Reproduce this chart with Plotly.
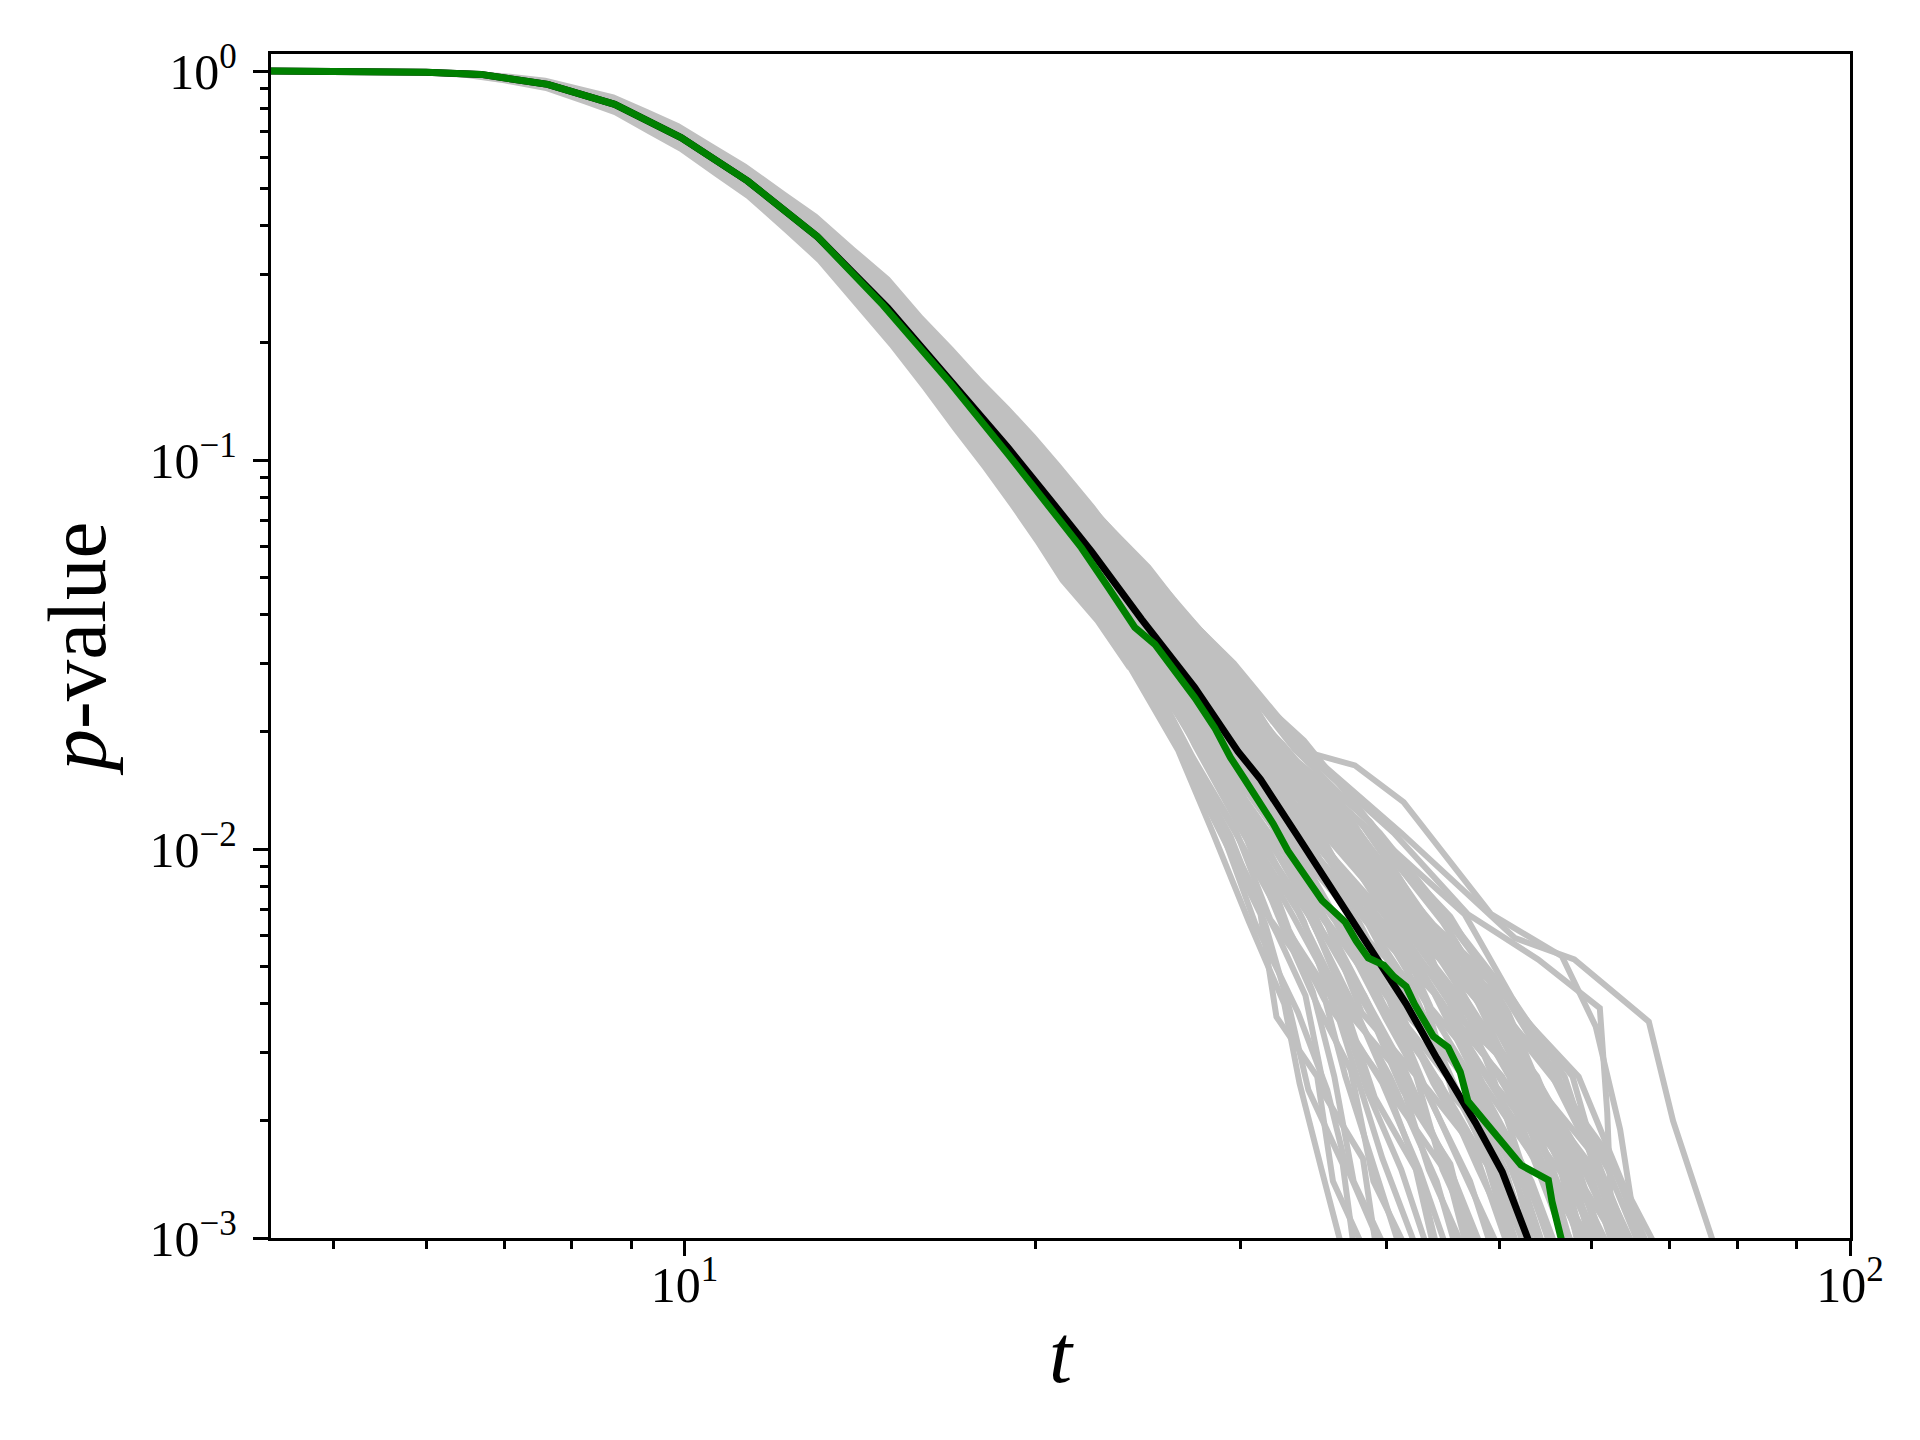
import plotly.graph_objects as go

# ---------------- data ----------------
BLACK_T = [4.3, 5.0, 5.5, 6.0, 6.69, 7.63, 8.71, 9.93, 11.33, 13.0, 14.94, 17.0, 18.95, 20.5,
           22.34, 24.66, 27.4, 29.85, 31.2, 33.5, 35.8, 39.2, 41.6, 44.2, 47.7, 50.3, 53.0, 54.0]
BLACK_P = [1.0, 0.9995, 0.998, 0.993, 0.980, 0.924, 0.821, 0.674, 0.521, 0.375, 0.246, 0.1567, 0.1075, 0.0804,
           0.0582, 0.039, 0.026, 0.0178, 0.0151, 0.0109, 0.0080, 0.00525, 0.0040, 0.0029, 0.00198, 0.00148, 0.0010, 0.00085]

GREEN_T = [4.3, 5.0, 5.5, 6.0, 6.69, 7.63, 8.71, 9.93, 11.33, 13.0, 14.8, 16.9, 18.95, 20.3, 21.9, 23.1,
           24.34, 25.32, 26.3, 27.4, 28.5, 29.4, 30.2, 31.24, 32.0, 32.93, 34.1, 35.24, 36.88, 37.7, 38.6,
           39.8, 40.6, 41.6, 42.3, 43.9, 45.2, 46.3, 47.0, 49.2, 52.2, 55.1, 55.5, 56.5, 57.0]
GREEN_P = [1.0, 0.9995, 0.998, 0.993, 0.980, 0.924, 0.821, 0.674, 0.521, 0.375, 0.25, 0.158, 0.1034, 0.079, 0.0595, 0.047,
           0.0371, 0.0336, 0.029, 0.0245, 0.0205, 0.0172, 0.0152, 0.0130, 0.0116, 0.0099, 0.0085, 0.00737, 0.00649, 0.0058, 0.00525,
           0.00503, 0.0047, 0.00443, 0.00399, 0.0033, 0.00309, 0.00267, 0.00225, 0.0019, 0.00154, 0.00141, 0.00124, 0.0010, 0.0009]

# upper part of the simulated curves: a dense band (outer edges)
BAND_T = [4.3, 5.0, 5.5, 6.0, 6.5, 7.0, 7.6, 8.2, 8.7, 9.3, 9.9, 10.6, 11.3, 12.2, 13.0, 14.0, 15.0,
          16.0, 17.0, 18.0, 19.0, 20.0, 21.0, 22.5, 24.0]
BAND_UPPER = [1.0116, 1.0111, 1.0118, 1.0093, 1.0041, 0.9872, 0.9603, 0.9093, 0.8703, 0.7969, 0.7328, 0.6474,
              0.5768, 0.4896, 0.4285, 0.3520, 0.2951, 0.2356, 0.1950, 0.1616, 0.1371, 0.1162, 0.098, 0.0763, 0.0587]
BAND_LOWER = [0.9886, 0.9881, 0.9842, 0.9750, 0.9590, 0.9298, 0.8880, 0.8216, 0.7703, 0.6892, 0.6209, 0.5373,
              0.4699, 0.3835, 0.3221, 0.2492, 0.1950, 0.1521, 0.1189, 0.0952, 0.0762, 0.0610, 0.0486, 0.0382, 0.0288]

# lower part of the simulated curves: individual lines
GRAY_T = [
    [18.4, 21.8, 24.0, 26.5, 28.4, 30.5, 32.7, 33.7, 35.2, 36.8],
    [18.6, 21.6, 24.5, 26.3, 29.2, 31.2, 32.2, 34.9, 36.0, 38.5],
    [18.8, 22.1, 24.2, 27.0, 28.9, 32.2, 34.1, 35.5, 38.2, 39.3],
    [18.5, 22.2, 25.2, 27.4, 30.4, 32.6, 35.0, 37.3, 39.0, 41.9],
    [18.9, 22.4, 25.0, 27.9, 29.9, 33.3, 36.4, 38.5, 41.2, 43.6],
    [18.85, 22.7, 25.4, 28.1, 31.2, 34.0, 36.0, 39.7, 42.7, 45.3],
    [19.1, 22.6, 25.7, 28.8, 31.4, 34.3, 37.8, 40.3, 44.2, 46.1],
    [18.7, 22.4, 25.7, 29.1, 31.9, 35.3, 38.3, 42.1, 45.0, 48.6],
    [19.3, 22.9, 25.8, 28.4, 31.7, 35.7, 38.8, 41.5, 45.7, 47.8],
    [19.0, 23.0, 26.0, 29.5, 32.4, 36.0, 40.2, 43.3, 46.5, 50.3],
    [19.5, 23.2, 26.2, 29.1, 32.9, 36.4, 39.7, 44.5, 48.0, 52.0],
    [19.2, 23.4, 26.4, 30.0, 33.2, 37.4, 41.1, 45.1, 50.2, 52.9],
    [19.7, 23.4, 26.9, 29.8, 33.8, 38.0, 43.1, 45.7, 51.2, 53.7],
    [19.4, 23.6, 26.7, 30.4, 34.2, 37.9, 41.6, 46.6, 52.3, 54.9],
    [19.1, 23.2, 27.0, 30.2, 34.3, 39.1, 43.1, 48.0, 52.3, 56.0],
    [19.9, 23.8, 27.0, 30.9, 34.5, 39.7, 44.7, 48.4, 54.4, 57.2],
    [19.8, 24.0, 27.3, 30.6, 35.3, 39.8, 45.5, 50.3, 54.6, 58.4],
    [19.3, 23.6, 27.5, 31.1, 35.7, 40.9, 45.3, 51.2, 56.4, 59.5],
    [20.0, 24.3, 27.6, 31.3, 35.9, 41.5, 47.0, 51.0, 56.0, 60.7],
    [19.5, 23.8, 27.8, 31.5, 36.4, 41.2, 47.8, 52.1, 58.5, 61.9],
    [20.1, 24.5, 28.0, 31.9, 36.6, 42.6, 48.4, 53.0, 59.6, 63.0],
    [20.3, 24.7, 28.3, 32.0, 37.2, 42.8, 49.3, 53.9, 58.7, 64.2],
    [19.8, 24.2, 28.2, 32.5, 37.6, 43.2, 48.5, 54.9, 60.6, 65.4],
    [20.4, 24.9, 28.6, 32.3, 38.0, 43.8, 50.1, 55.2, 61.6, 65.0],
    [20.5, 25.1, 28.9, 33.0, 38.7, 44.9, 50.8, 56.7, 62.0, 66.5],
    [20.0, 24.8, 29.2, 33.4, 39.5, 45.5, 51.6, 56.4, 62.7, 67.7],
    [20.3, 25.0, 29.5, 34.0, 40.2, 46.7, 52.4, 58.5, 63.7, 68.8],
    [20.5, 25.3, 29.3, 33.6, 37.6, 41.4, 49.2, 56.6, 60.5, 63.5, 66.0],
    [20.4, 25.2, 29.4, 33.8, 40.6, 47.0, 54.0, 61.0, 61.9, 62.6],
    [20.1, 24.9, 29.6, 34.1, 41.2, 51.6, 58.0, 67.2, 70.5, 74.0, 77.0],
    [18.45, 21.9, 24.4, 26.7, 29.4, 31.5, 33.1, 34.3, 36.7, 37.6],
    [18.65, 21.85, 24.7, 27.2, 29.6, 32.6, 34.6, 36.1, 37.5, 40.2],
    [18.85, 22.25, 24.6, 27.5, 30.7, 32.9, 36.0, 37.9, 39.7, 42.7],
    [18.75, 22.5, 25.2, 27.7, 30.2, 33.6, 36.9, 39.1, 42.7, 44.4],
    [19.05, 22.65, 25.3, 28.4, 30.9, 34.6, 37.4, 40.9, 43.5, 46.9],
    [18.95, 22.8, 25.55, 28.2, 31.6, 35.0, 38.7, 41.3, 45.4, 47.5],
    [19.2, 22.7, 25.9, 28.9, 32.1, 35.5, 39.3, 42.7, 47.2, 49.5],
    [19.1, 22.95, 26.15, 29.3, 32.5, 36.7, 40.7, 43.9, 47.9, 51.2],
    [19.4, 23.1, 26.3, 29.6, 32.8, 37.0, 40.6, 45.2, 49.4, 52.2],
    [19.15, 23.3, 26.55, 29.8, 33.4, 37.9, 41.8, 46.3, 50.6, 53.4],
    [19.6, 23.5, 26.6, 30.25, 33.7, 38.6, 42.4, 47.5, 51.0, 54.6],
    [19.35, 23.45, 26.85, 30.65, 34.0, 39.3, 43.9, 47.7, 53.3, 56.3],
    [19.72, 23.7, 27.2, 30.4, 34.9, 39.1, 44.5, 49.3, 53.5, 57.6],
    [19.48, 23.85, 27.05, 31.05, 35.2, 40.3, 44.7, 50.0, 55.4, 58.0],
    [19.88, 23.9, 27.45, 31.2, 36.1, 40.7, 46.2, 51.4, 55.6, 59.2],
    [19.65, 24.15, 27.65, 31.45, 35.5, 41.3, 46.8, 52.5, 57.3, 60.4],
    [20.05, 24.35, 27.85, 31.7, 36.8, 42.0, 47.2, 53.3, 58.3, 62.6],
    [19.85, 24.45, 28.1, 32.1, 37.3, 43.0, 48.2, 52.7, 58.0, 61.5],
    [20.35, 24.75, 28.45, 32.75, 38.3, 44.3, 49.6, 54.2, 59.4, 64.0],
    [20.2, 24.65, 28.7, 33.15, 39.0, 44.7, 50.5, 55.9, 60.8, 65.8],
    [18.55, 21.7, 24.1, 26.8, 29.0, 30.9, 33.6, 35.6, 36.9, 39.9],
    [18.8, 22.0, 24.85, 27.3, 29.7, 31.8, 35.3, 36.9, 39.4, 41.3],
    [19.0, 22.3, 25.1, 28.55, 31.0, 33.0, 35.4, 39.9, 42.2, 44.1],
    [19.25, 22.88, 25.45, 28.0, 30.5, 34.2, 37.6, 40.6, 45.2, 47.1],
    [19.28, 23.12, 25.95, 28.7, 31.8, 36.2, 39.9, 42.3, 44.7, 48.3],
    [19.55, 23.52, 26.72, 29.65, 32.6, 35.6, 38.1, 43.5, 48.8, 51.5],
    [18.9, 22.9, 26.7, 30.7, 35.0, 38.4, 42.2, 45.5, 49.8, 53.1],
    [19.95, 24.05, 27.35, 30.55, 34.1, 39.5, 46.5, 49.6, 52.1, 55.7],
    [19.42, 23.95, 27.95, 32.25, 36.5, 40.1, 43.7, 50.6, 56.7, 58.7],
    [20.45, 25.0, 29.05, 32.9, 37.5, 42.4, 47.9, 51.6, 57.8, 60.3],
    [19.7, 24.3, 28.3, 32.7, 38.8, 43.6, 49.0, 54.6, 59.7, 63.3],
    [20.0, 24.0, 28.0, 32.4, 39.3, 45.4, 50.9, 53.7, 57.2, 61.6],
    [19.55, 23.72, 27.75, 32.1, 38.1, 44.2, 50.3, 52.0, 56.1, 59.0],
    [19.8, 24.4, 28.4, 31.7, 37.0, 42.3, 46.0, 51.3, 57.5, 60.9],
    [19.92, 24.1, 27.3, 31.6, 37.7, 43.4, 51.1, 57.8, 61.3, 65.2],
    [19.32, 23.4, 27.4, 31.8, 36.9, 42.2, 48.7, 53.6, 60.3, 64.6],
    [19.12, 23.25, 26.9, 31.3, 36.3, 42.9, 47.5, 51.0, 55.0, 60.0],
    [19.5, 23.6, 27.2, 31.0, 36.2, 41.9, 49.4, 56.0, 62.4, 66.9],
    [20.15, 24.55, 28.15, 32.6, 38.5, 43.1, 47.6, 52.3, 56.7, 61.2],
    [19.6, 23.9, 27.5, 31.9, 37.4, 43.9, 51.4, 56.9, 60.9, 63.8],
]
GRAY_P = [
    [0.1, 0.05, 0.03, 0.018, 0.011, 0.0065, 0.004, 0.0025, 0.0015, 0.0009],
    [0.1, 0.053, 0.028, 0.019, 0.0102, 0.0068, 0.0037, 0.0026, 0.0014, 0.0009],
    [0.1, 0.047, 0.032, 0.017, 0.0115, 0.0061, 0.0042, 0.0023, 0.0016, 0.0009],
    [0.1, 0.051, 0.031, 0.0185, 0.0105, 0.0063, 0.0039, 0.0027, 0.0014, 0.0009],
    [0.1, 0.049, 0.029, 0.0175, 0.0118, 0.0067, 0.0041, 0.0024, 0.0015, 0.0009],
    [0.1, 0.05, 0.03, 0.018, 0.011, 0.0065, 0.004, 0.0025, 0.0015, 0.0009],
    [0.1, 0.053, 0.028, 0.019, 0.0102, 0.0068, 0.0037, 0.0026, 0.0014, 0.0009],
    [0.1, 0.047, 0.032, 0.017, 0.0115, 0.0061, 0.0042, 0.0023, 0.0016, 0.0009],
    [0.1, 0.051, 0.031, 0.0185, 0.0105, 0.0063, 0.0039, 0.0027, 0.0014, 0.0009],
    [0.1, 0.049, 0.029, 0.0175, 0.0118, 0.0067, 0.0041, 0.0024, 0.0015, 0.0009],
    [0.1, 0.05, 0.03, 0.018, 0.011, 0.0065, 0.004, 0.0025, 0.0015, 0.0009],
    [0.1, 0.053, 0.028, 0.019, 0.0102, 0.0068, 0.0037, 0.0026, 0.0014, 0.0009],
    [0.1, 0.047, 0.032, 0.017, 0.0115, 0.0061, 0.0042, 0.0023, 0.0016, 0.0009],
    [0.1, 0.051, 0.031, 0.0185, 0.0105, 0.0063, 0.0039, 0.0027, 0.0014, 0.0009],
    [0.1, 0.049, 0.029, 0.0175, 0.0118, 0.0067, 0.0041, 0.0024, 0.0015, 0.0009],
    [0.1, 0.05, 0.03, 0.018, 0.011, 0.0065, 0.004, 0.0025, 0.0015, 0.0009],
    [0.1, 0.053, 0.028, 0.019, 0.0102, 0.0068, 0.0037, 0.0026, 0.0014, 0.0009],
    [0.1, 0.047, 0.032, 0.017, 0.0115, 0.0061, 0.0042, 0.0023, 0.0016, 0.0009],
    [0.1, 0.051, 0.031, 0.0185, 0.0105, 0.0063, 0.0039, 0.0027, 0.0014, 0.0009],
    [0.1, 0.049, 0.029, 0.0175, 0.0118, 0.0067, 0.0041, 0.0024, 0.0015, 0.0009],
    [0.1, 0.05, 0.03, 0.018, 0.011, 0.0065, 0.004, 0.0025, 0.0015, 0.0009],
    [0.1, 0.053, 0.028, 0.019, 0.0102, 0.0068, 0.0037, 0.0026, 0.0014, 0.0009],
    [0.1, 0.047, 0.032, 0.017, 0.0115, 0.0061, 0.0042, 0.0023, 0.0016, 0.0009],
    [0.1, 0.051, 0.031, 0.0185, 0.0105, 0.0063, 0.0039, 0.0027, 0.0014, 0.0009],
    [0.1, 0.049, 0.029, 0.0175, 0.0118, 0.0067, 0.0041, 0.0024, 0.0015, 0.0009],
    [0.1, 0.05, 0.03, 0.018, 0.011, 0.0065, 0.004, 0.0025, 0.0015, 0.0009],
    [0.1, 0.053, 0.028, 0.019, 0.0102, 0.0068, 0.0037, 0.0026, 0.0014, 0.0009],
    [0.1, 0.05, 0.03, 0.018, 0.0164, 0.0132, 0.0068, 0.0053, 0.0035, 0.0019, 0.0009],
    [0.1, 0.05, 0.03, 0.018, 0.011, 0.0068, 0.0052, 0.0039, 0.0021, 0.0009],
    [0.1, 0.05, 0.03, 0.018, 0.011, 0.0059, 0.0052, 0.0036, 0.002, 0.0013, 0.0009],
    [0.1, 0.048, 0.031, 0.0182, 0.0108, 0.0064, 0.0038, 0.0024, 0.00155, 0.0009],
    [0.1, 0.052, 0.0295, 0.0172, 0.0112, 0.0066, 0.0043, 0.0026, 0.0014, 0.0009],
    [0.1, 0.046, 0.0305, 0.0188, 0.0104, 0.0062, 0.0041, 0.0025, 0.0016, 0.0009],
    [0.1, 0.054, 0.0285, 0.0178, 0.0114, 0.0069, 0.0039, 0.0023, 0.00145, 0.0009],
    [0.1, 0.05, 0.0315, 0.0168, 0.0109, 0.0065, 0.0037, 0.0027, 0.0015, 0.0009],
    [0.1, 0.048, 0.031, 0.0182, 0.0108, 0.0064, 0.0038, 0.0024, 0.00155, 0.0009],
    [0.1, 0.052, 0.0295, 0.0172, 0.0112, 0.0066, 0.0043, 0.0026, 0.0014, 0.0009],
    [0.1, 0.046, 0.0305, 0.0188, 0.0104, 0.0062, 0.0041, 0.0025, 0.0016, 0.0009],
    [0.1, 0.054, 0.0285, 0.0178, 0.0114, 0.0069, 0.0039, 0.0023, 0.00145, 0.0009],
    [0.1, 0.05, 0.0315, 0.0168, 0.0109, 0.0065, 0.0037, 0.0027, 0.0015, 0.0009],
    [0.1, 0.048, 0.031, 0.0182, 0.0108, 0.0064, 0.0038, 0.0024, 0.00155, 0.0009],
    [0.1, 0.052, 0.0295, 0.0172, 0.0112, 0.0066, 0.0043, 0.0026, 0.0014, 0.0009],
    [0.1, 0.046, 0.0305, 0.0188, 0.0104, 0.0062, 0.0041, 0.0025, 0.0016, 0.0009],
    [0.1, 0.054, 0.0285, 0.0178, 0.0114, 0.0069, 0.0039, 0.0023, 0.00145, 0.0009],
    [0.1, 0.05, 0.0315, 0.0168, 0.0109, 0.0065, 0.0037, 0.0027, 0.0015, 0.0009],
    [0.1, 0.048, 0.031, 0.0182, 0.0108, 0.0064, 0.0038, 0.0024, 0.00155, 0.0009],
    [0.1, 0.052, 0.0295, 0.0172, 0.0112, 0.0066, 0.0043, 0.0026, 0.0014, 0.0009],
    [0.1, 0.046, 0.0305, 0.0188, 0.0104, 0.0062, 0.0041, 0.0025, 0.0016, 0.0009],
    [0.1, 0.054, 0.0285, 0.0178, 0.0114, 0.0069, 0.0039, 0.0023, 0.00145, 0.0009],
    [0.1, 0.05, 0.0315, 0.0168, 0.0109, 0.0065, 0.0037, 0.0027, 0.0015, 0.0009],
    [0.1, 0.048, 0.031, 0.0182, 0.0108, 0.0064, 0.0038, 0.0024, 0.00155, 0.0009],
    [0.1, 0.052, 0.0295, 0.0172, 0.0112, 0.0066, 0.0043, 0.0026, 0.0014, 0.0009],
    [0.1, 0.046, 0.0305, 0.0188, 0.0104, 0.0062, 0.0041, 0.0025, 0.0016, 0.0009],
    [0.1, 0.054, 0.0285, 0.0178, 0.0114, 0.0069, 0.0039, 0.0023, 0.00145, 0.0009],
    [0.1, 0.05, 0.0315, 0.0168, 0.0109, 0.0065, 0.0037, 0.0027, 0.0015, 0.0009],
    [0.1, 0.048, 0.031, 0.0182, 0.0108, 0.0064, 0.0038, 0.0024, 0.00155, 0.0009],
    [0.1, 0.052, 0.0295, 0.0172, 0.0112, 0.0066, 0.0043, 0.0026, 0.0014, 0.0009],
    [0.1, 0.046, 0.0305, 0.0188, 0.0104, 0.0062, 0.0041, 0.0025, 0.0016, 0.0009],
    [0.1, 0.054, 0.0285, 0.0178, 0.0114, 0.0069, 0.0039, 0.0023, 0.00145, 0.0009],
    [0.1, 0.05, 0.0315, 0.0168, 0.0109, 0.0065, 0.0037, 0.0027, 0.0015, 0.0009],
    [0.1, 0.049, 0.0302, 0.0176, 0.0111, 0.0063, 0.0042, 0.0024, 0.0015, 0.0009],
    [0.1, 0.051, 0.0292, 0.0184, 0.0106, 0.0067, 0.0038, 0.0026, 0.00145, 0.0009],
    [0.1, 0.047, 0.0308, 0.0174, 0.0116, 0.0061, 0.0040, 0.0025, 0.0016, 0.0009],
    [0.1, 0.053, 0.0288, 0.0186, 0.0103, 0.0068, 0.0036, 0.0024, 0.0015, 0.0009],
    [0.1, 0.048, 0.0312, 0.0170, 0.0113, 0.0064, 0.0041, 0.0026, 0.0014, 0.0009],
    [0.1, 0.049, 0.0302, 0.0176, 0.0111, 0.0063, 0.0042, 0.0024, 0.0015, 0.0009],
    [0.1, 0.051, 0.0292, 0.0184, 0.0106, 0.0067, 0.0038, 0.0026, 0.00145, 0.0009],
    [0.1, 0.047, 0.0308, 0.0174, 0.0116, 0.0061, 0.0040, 0.0025, 0.0016, 0.0009],
    [0.1, 0.053, 0.0288, 0.0186, 0.0103, 0.0068, 0.0036, 0.0024, 0.0015, 0.0009],
    [0.1, 0.048, 0.0312, 0.0170, 0.0113, 0.0064, 0.0041, 0.0026, 0.0014, 0.0009],
]

X_TICKS = [10, 100]
X_TICK_LABELS = ["10<sup>1</sup>", "10<sup>2</sup>"]
X_MINOR = [5, 6, 7, 8, 9, 20, 30, 40, 50, 60, 70, 80, 90]
Y_TICKS = [0.001, 0.01, 0.1, 1]
Y_TICK_LABELS = ["10<sup>\u22123</sup>", "10<sup>\u22122</sup>", "10<sup>\u22121</sup>", "10<sup>0</sup>"]
Y_MINOR = [0.002, 0.003, 0.004, 0.005, 0.006, 0.007, 0.008, 0.009,
           0.02, 0.03, 0.04, 0.05, 0.06, 0.07, 0.08, 0.09,
           0.2, 0.3, 0.4, 0.5, 0.6, 0.7, 0.8, 0.9]

GRAY = "#c0c0c0"
FONT = "Liberation Serif, Times New Roman, Times, serif"

fig = go.Figure()

# dense band of simulated curves
fig.add_trace(go.Scatter(
    x=BAND_T + BAND_T[::-1], y=BAND_UPPER + BAND_LOWER[::-1],
    mode="lines", fill="toself", fillcolor=GRAY, line=dict(width=0, color=GRAY),
    hoverinfo="skip", showlegend=False))

for ts, ps in zip(GRAY_T, GRAY_P):
    fig.add_trace(go.Scatter(x=ts, y=ps, mode="lines",
                             line=dict(color=GRAY, width=6), hoverinfo="skip", showlegend=False))

fig.add_trace(go.Scatter(x=BLACK_T, y=BLACK_P, mode="lines",
                         line=dict(color="black", width=7), showlegend=False))
fig.add_trace(go.Scatter(x=GREEN_T, y=GREEN_P, mode="lines",
                         line=dict(color="#008000", width=7), showlegend=False))

axis_common = dict(
    type="log", ticks="outside", ticklen=15, tickwidth=3.3, tickcolor="black",
    showline=True, linewidth=3.3, linecolor="black", mirror=True,
    showgrid=False, zeroline=False, automargin=False,
    tickfont=dict(size=50, family=FONT, color="black"),
)

fig.update_xaxes(
    **axis_common, range=[0.6451, 2.0], tickmode="array",
    tickvals=X_TICKS, ticktext=X_TICK_LABELS, ticklabelstandoff=-14,
    minor=dict(tickmode="array", tickvals=X_MINOR, ticks="outside", ticklen=8.3,
               tickwidth=2.5, tickcolor="black", showgrid=False),
    title=dict(text="<i>t</i>", font=dict(size=83, family=FONT, color="black"), standoff=12),
)
fig.update_yaxes(
    **axis_common, range=[-3.0, 0.0437], tickmode="array",
    tickvals=Y_TICKS, ticktext=Y_TICK_LABELS, ticklabelstandoff=6,
    minor=dict(tickmode="array", tickvals=Y_MINOR, ticks="outside", ticklen=8.3,
               tickwidth=2.5, tickcolor="black", showgrid=False),
    title=dict(text="<i>p</i>-value", font=dict(size=83, family=FONT, color="black"), standoff=17),
)

fig.update_layout(
    template="none", width=1920, height=1440,
    margin=dict(l=263, r=78, t=46, b=210, pad=0),
    paper_bgcolor="white", plot_bgcolor="white", showlegend=False,
    font=dict(family=FONT, color="black"),
)

fig.write_html("out.html")
